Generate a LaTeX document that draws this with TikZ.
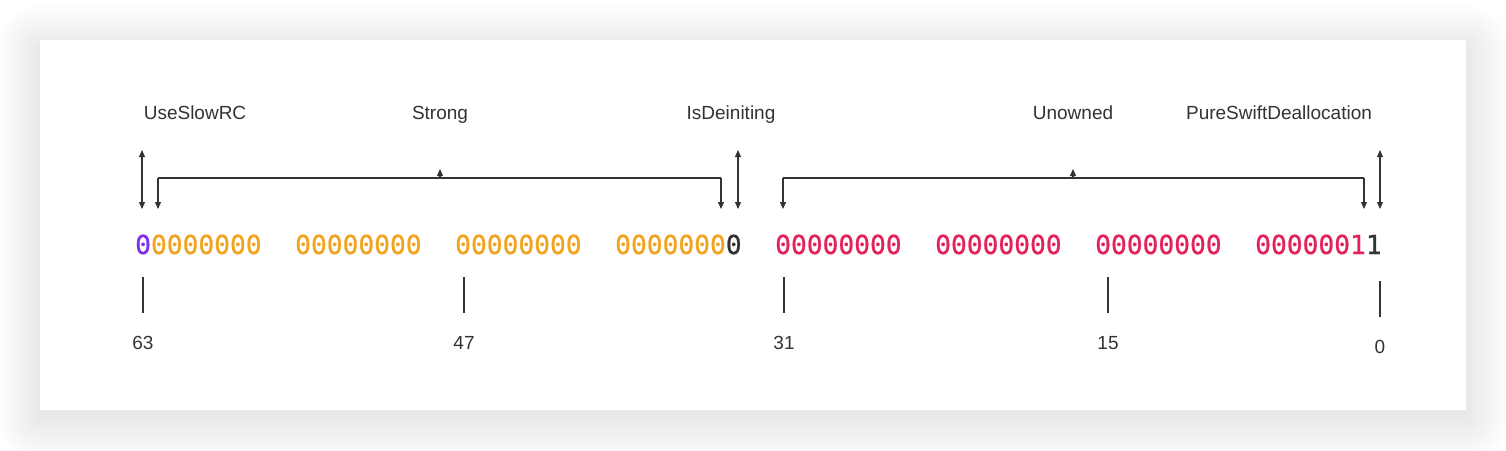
\documentclass[tikz,border=0pt]{standalone}
\usepackage{fontspec}
\setmainfont{Liberation Sans}
\newfontfamily\bitsfont[FakeBold=0.8]{DejaVu Sans Mono}
\usetikzlibrary{arrows.meta}
\definecolor{inkgrey}{HTML}{333333}
\definecolor{slowpurple}{HTML}{7E2FE8}
\definecolor{strongorange}{HTML}{F2A31F}
\definecolor{unownedred}{HTML}{E3215B}

\begin{document}
\begin{tikzpicture}[
        x=1pt, y=-1pt,
        field/.style={font=\fontsize{19}{22}\selectfont, text=inkgrey, inner sep=0pt, anchor=base},
        bits/.style={font=\bitsfont\fontsize{26.25}{30}\selectfont, inner sep=0pt, anchor=base west},
        bitno/.style={font=\fontsize{19}{22}\selectfont, text=inkgrey, inner sep=0pt},
        flagarrow/.style={draw=inkgrey, line width=1.1pt, {Triangle[length=7pt,width=6pt]}-{Triangle[length=7pt,width=6pt]}},
        fieldspan/.style={draw=inkgrey, line width=1.1pt, -{Triangle[length=7pt,width=6pt]}},
        bracketline/.style={draw=inkgrey, line width=1.1pt},
        bittick/.style={draw=inkgrey, line width=1.1pt}
    ]
    \useasboundingbox (0,0) rectangle (1506,450);
    % card with soft shadow
    \fill[white] (0,0) rectangle (1506,450);
    \foreach \s in {3,7,...,43}
        \fill[black, opacity=0.007, rounded corners=\s] (40-\s,48-\s) rectangle (1466+\s,418+\s);
    \fill[white] (40,40) rectangle (1466,410);

    % field names
    \node[field] (useslow) at (195,119) {UseSlowRC};
    \node[field] (strong) at (440,119) {Strong};
    \node[field] (deinit) at (731,119) {IsDeiniting};
    \node[field] (unowned) at (1073,119) {Unowned};
    \node[field] (pureswift) at (1279,119) {PureSwiftDeallocation};

    % one bit flags
    \coordinate (slowtop) at (142,150);
    \coordinate (slowbot) at (142,209);
    \coordinate (deinittop) at (738,150);
    \coordinate (deinitbot) at (738,209);
    \coordinate (puretop) at (1380,150);
    \coordinate (purebot) at (1380,209);
    \draw[flagarrow] (slowtop) -- (slowbot);
    \draw[flagarrow] (deinittop) -- (deinitbot);
    \draw[flagarrow] (puretop) -- (purebot);

    % counters
    \coordinate (strongL) at (158,178);
    \coordinate (strongR) at (721,178);
    \coordinate (unownedL) at (783,178);
    \coordinate (unownedR) at (1364,178);
    \draw[bracketline] (strongL) -- (strongR);
    \draw[fieldspan] (strongL) -- (strongL |- slowbot);
    \draw[fieldspan] (strongR) -- (strongR |- slowbot);
    \draw[fieldspan] (strong.south |- strongL) -- ++(0,-9);
    \draw[bracketline] (unownedL) -- (unownedR);
    \draw[fieldspan] (unownedL) -- (unownedL |- slowbot);
    \draw[fieldspan] (unownedR) -- (unownedR |- slowbot);
    \draw[fieldspan] (unowned.south |- unownedL) -- ++(0,-9);

    % the 64 bits
    \node[bits] (g0) at (135,254) {\textcolor{slowpurple}{0}\textcolor{strongorange}{0000000}};
    \foreach \k/\col in {1/strongorange,2/strongorange,4/unownedred,5/unownedred,6/unownedred}
        \node[bits, text=\col] (g\k) at (135+160*\k,254) {00000000};
    \node[bits] (g3) at (615,254) {\textcolor{strongorange}{0000000}\textcolor{inkgrey}{0}};
    \node[bits] (g7) at (1255,254) {\textcolor{unownedred}{0000001}\textcolor{inkgrey}{1}};

    % bit positions
    \foreach \x/\n/\y in {143/63/343, 464/47/343, 784/31/343, 1108/15/343, 1380/0/347} {
        \node[bitno] (bit\n) at (\x,\y) {\n};
        \draw[bittick] (bit\n.north) ++(0,-23) -- ++(0,-36);
    }
\end{tikzpicture}
\end{document}
